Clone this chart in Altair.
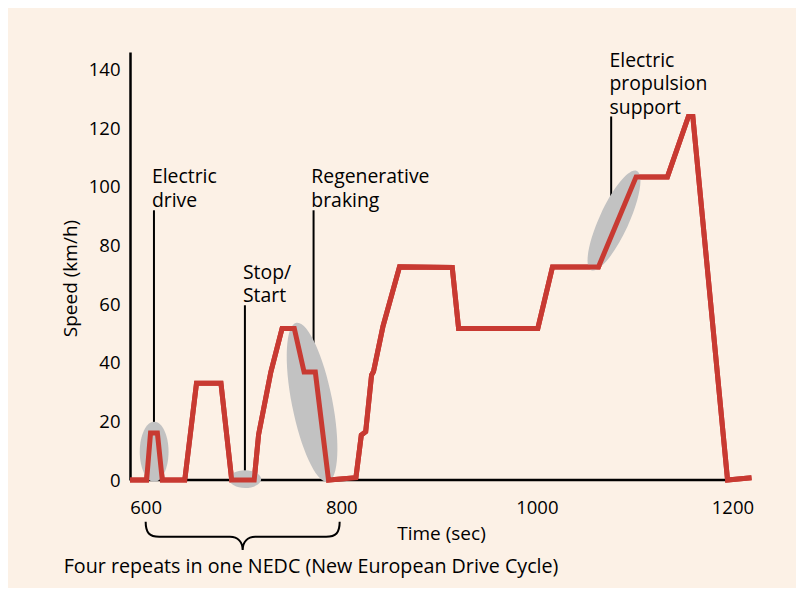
import altair as alt
import pandas as pd

# ---- drive-cycle trace ----
time_s = [584, 601, 605, 612, 617, 640, 652, 677, 688, 711, 715.5, 728, 739.5, 752, 762,
          773.5, 787, 815, 820.5, 825, 831, 833, 842.6, 859.6, 913.5, 920, 1001, 1016, 1063,
          1101.5, 1133.5, 1155, 1159.5, 1195, 1219.5]
speed = [0, 0, 16, 16, 0, 0, 33, 33, 0, 0, 15.5, 36.8, 51.7, 51.7, 36.8,
         36.8, 0, 0.8, 15.3, 16.5, 35.8, 37, 52.3, 72.7, 72.5, 51.7, 51.7, 72.7, 72.7,
         103.4, 103.4, 124, 124, 0, 0.8]

y_ticks = [0, 20, 40, 60, 80, 100, 120, 140]
x_ticks = [600, 800, 1000, 1200]

# ---- annotations ----
ann_text = ["Electric\ndrive", "Stop/\nStart", "Regenerative\nbraking", "Electric\npropulsion\nsupport"]
ann_text_t = [606.4, 699.5, 769.4, 1074.3]
ann_text_v = [101.3, 68.7, 101.3, 140.9]
ann_line_t = [608.5, 701.5, 771.7, 1076]
ann_line_top = [92, 59.6, 92, 124]
ann_line_bottom = [15, 1, 40, 94]

ell_t = [608.7, 701.7, 770.2, 1078.9]
ell_v = [9.6, 0.3, 26.5, 88.5]
ell_angle = [90, 0, 78.8, 114.7]
ell_halflen = [30, 16, 81, 54.6]
ell_ratio = [0.48, 0.56, 0.25, 0.27]

brace_t = [699.2]
brace_v = [-19.1]
brace_halflen = [97]
note_text = ["Four repeats in one NEDC (New European Drive Cycle)"]
note_t = [516.2]
note_v = [-31.8]

FONT = "Open Sans"
RED = "#c83a32"
BG = "#fcf1e6"

X_DOMAIN = [584, 1220]
Y_DOMAIN = [0, 146]

def ellipse_path(r):
    k = 0.5523
    return (f"M1,0 C1,{k*r:.4f} {k:.4f},{r:.4f} 0,{r:.4f} "
            f"C{-k:.4f},{r:.4f} -1,{k*r:.4f} -1,0 "
            f"C-1,{-k*r:.4f} {-k:.4f},{-r:.4f} 0,{-r:.4f} "
            f"C{k:.4f},{-r:.4f} 1,{-k*r:.4f} 1,0 Z")

BRACE = ("M-1,-0.146 C-1,-0.03 -0.96,0.008 -0.86,0.008 L-0.13,0.008 "
         "C-0.05,0.008 0,0.06 0,0.145 C0,0.06 0.05,0.008 0.13,0.008 "
         "L0.86,0.008 C0.96,0.008 1,-0.03 1,-0.146")

trace = pd.DataFrame({"t": time_s, "v": speed})
ann_lines = pd.DataFrame({"t": ann_line_t, "top": ann_line_top, "bottom": ann_line_bottom})
ann_labels = pd.DataFrame({"t": ann_text_t, "v": ann_text_v, "label": ann_text})
ells = pd.DataFrame({
    "t": ell_t, "v": ell_v, "angle": ell_angle,
    "size": [4 * a * a for a in ell_halflen],
    "shape": [ellipse_path(r) for r in ell_ratio],
})
brace = pd.DataFrame({"t": brace_t, "v": brace_v, "size": [4 * a * a for a in brace_halflen],
                      "shape": [BRACE]})
note = pd.DataFrame({"t": note_t, "v": note_v, "label": note_text})
xaxis_line = pd.DataFrame({"t": [X_DOMAIN[0]], "t2": [1194], "v": [0]})

xs = alt.Scale(domain=X_DOMAIN, nice=False, zero=False)
ys = alt.Scale(domain=Y_DOMAIN, nice=False)

base_x = alt.X("t:Q", scale=xs,
               axis=alt.Axis(values=x_ticks, format="d", title="Time (sec)", domain=False,
                             ticks=False, tickSize=0, labelPadding=18, grid=False, titleY=44,
                             labelFontSize=18.5, titleFontSize=19))
base_y = alt.Y("v:Q", scale=ys,
               axis=alt.Axis(values=y_ticks, format="d", title="Speed (km/h)", ticks=False,
                             tickSize=0, labelPadding=10, grid=False, domainColor="black",
                             domainWidth=2.5, titleX=-50, titleY=226,
                             labelFontSize=18.5, titleFontSize=19))

xline = alt.Chart(xaxis_line).mark_rule(color="black", strokeWidth=2.5).encode(
    x=alt.X("t:Q", scale=xs), x2="t2:Q", y=alt.Y("v:Q", scale=ys))

alines = alt.Chart(ann_lines).mark_rule(color="black", strokeWidth=2).encode(
    x=alt.X("t:Q", scale=xs), y=alt.Y("top:Q", scale=ys), y2="bottom:Q")

ellipses = alt.Chart(ells).mark_point(filled=True, fill="#c2c2c2", opacity=1,
                                      strokeWidth=0).encode(
    x=alt.X("t:Q", scale=xs), y=alt.Y("v:Q", scale=ys),
    shape=alt.Shape("shape:N", scale=None),
    size=alt.Size("size:Q", scale=None),
    angle=alt.Angle("angle:Q", scale=None),
)

line = alt.Chart(trace).mark_line(color=RED, strokeWidth=5, strokeJoin="miter",
                                  clip=False).encode(x=base_x, y=base_y)

labels = alt.Chart(ann_labels).mark_text(align="left", baseline="alphabetic",
                                         lineBreak="\n", lineHeight=23.5,
                                         font=FONT, fontSize=19.4, color="black").encode(
    x=alt.X("t:Q", scale=xs), y=alt.Y("v:Q", scale=ys), text="label:N")

brace_mark = alt.Chart(brace).mark_point(filled=False, stroke="black", strokeWidth=2,
                                         opacity=1).encode(
    x=alt.X("t:Q", scale=xs), y=alt.Y("v:Q", scale=ys),
    shape=alt.Shape("shape:N", scale=None),
    size=alt.Size("size:Q", scale=None),
)

note_mark = alt.Chart(note).mark_text(align="left", baseline="alphabetic", font=FONT,
                                      fontSize=19.7, color="black").encode(
    x=alt.X("t:Q", scale=xs), y=alt.Y("v:Q", scale=ys), text="label:N")

chart = alt.layer(line, xline, alines, ellipses, line, labels, brace_mark, note_mark).properties(
    width=622, height=428,
    autosize=alt.AutoSizeParams(type="none"),
    padding={"left": 122, "top": 44, "right": 44, "bottom": 108},
    background=BG,
).configure_view(stroke=None).configure_axis(
    labelFont=FONT, titleFont=FONT, labelColor="black", titleColor="black",
    titleFontWeight="normal",
)

chart.save("out.html", embed_options={"renderer": "svg", "actions": False})
